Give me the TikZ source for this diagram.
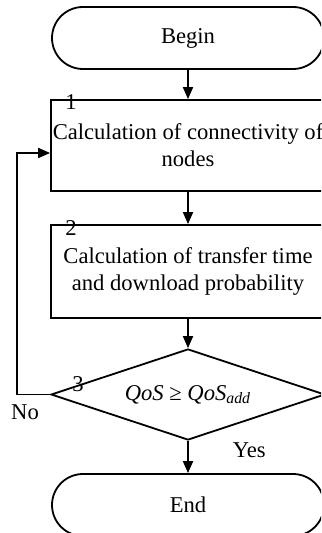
\documentclass[tikz,border=0pt]{standalone}
\usepackage{fontspec}
\setmainfont{Liberation Serif}
\usetikzlibrary{arrows.meta, positioning, shapes.geometric, calc}

\begin{document}
\begin{tikzpicture}[
  x=0.5pt, y=-0.5pt,
  term/.style={rectangle, draw, rounded corners=15.5pt, minimum width=136pt,
               minimum height=31pt, inner sep=0pt},
  box/.style={rectangle, draw, minimum width=137pt, inner sep=0pt, align=center},
  decision/.style={diamond, draw, aspect=3, minimum width=137pt,
                   minimum height=45.5pt, inner sep=0pt},
  arr/.style={-{Triangle[length=6pt, width=5pt]}},
  num/.style={inner sep=0pt},
  line width=0.9pt,
  font=\fontsize{11.3}{13.5}\selectfont
]
  \useasboundingbox (0,0) rectangle (321,533);
  \clip (0,0) rectangle (321,533);

  % Start
  \node[term] (begin) at (188,38) {Begin};

  % Step 1: connectivity
  \node[box, minimum height=45.5pt] (conn) at (188,145.5)
    {Calculation of connectivity of\\nodes};
  \node[num] (n1) at ($(conn.north west)+(21,3)$) {1};
  \draw[arr] (begin) -- (conn);

  % Step 2: transfer time
  \node[box, minimum height=46.5pt] (trans) at (188,271.5)
    {Calculation of transfer time\\and download probability};
  \node[num] (n2) at ($(trans.north west)+(21,4)$) {2};
  \draw[arr] (conn) -- (trans);

  % Step 3: QoS check
  \node[decision] (check) at (188,394.5)
    {\textit{QoS} ≥ \textit{QoS}\textsubscript{\textit{add}}};
  \node[num] (n3) at (78,384) {3};
  \draw[arr] (trans) -- (check);

  % End
  \node[term] (end) at (188,505) {End};
  \draw[arr] (check) -- node[num, pos=0.3, right=22pt] (yes) {Yes} (end);

  % No: back to step 1
  \coordinate (loop) at (17,153);
  \draw[arr] (check.west) -| (loop) -- (loop -| conn.west);
  \node[num] (no) at (25,412) {No};
\end{tikzpicture}
\end{document}
